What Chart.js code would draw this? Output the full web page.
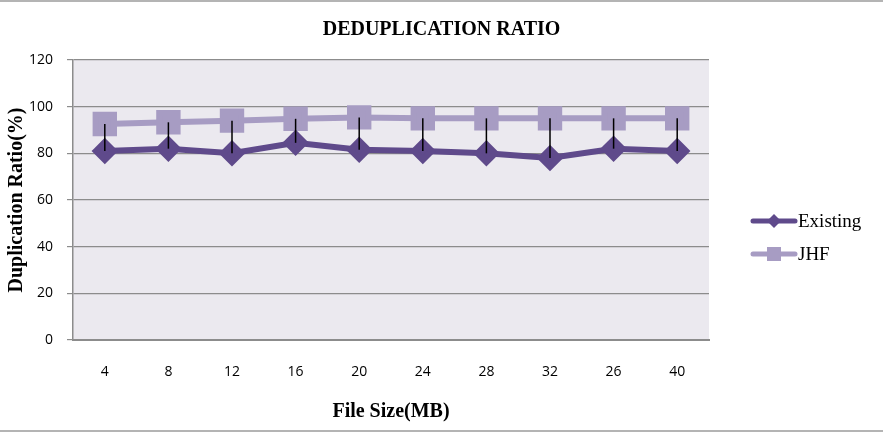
<!DOCTYPE html>
<html>
<head>
<meta charset="utf-8">
<script src="https://cdn.jsdelivr.net/npm/chart.js@4.4.0/dist/chart.umd.min.js"></script>
<style>
  html, body { margin: 0; padding: 0; background: #fff; }
  #wrap { width: 883px; height: 432px; position: relative; }
</style>
</head>
<body>
<div id="wrap"><canvas id="chart" width="883" height="432"></canvas></div>
<script>
// datos
const fileSizes = ['4', '8', '12', '16', '20', '24', '28', '32', '26', '40'];
const existing = [81, 82, 80, 84.5, 81.5, 81, 80, 78, 82, 81];
const jhf = [92.6, 93.3, 94, 94.8, 95.4, 95, 95, 95, 95, 95];
const yTicks = [0, 20, 40, 60, 80, 100, 120];
const chartTitle = 'DEDUPLICATION RATIO';

const colorExisting = '#5f4a8b';
const colorJHF = '#a79cc3';
const serif = '"Liberation Serif", "Times New Roman", serif';

// fondo del area de trazado + marco de la pagina + titulo centrado en todo el ancho
const backgroundPlugin = {
  id: 'plotBackground',
  beforeDraw(chart) {
    const { ctx, chartArea } = chart;
    ctx.save();
    ctx.fillStyle = '#fff';
    ctx.fillRect(0, 0, chart.width, chart.height);
    ctx.fillStyle = '#ebe9ef';
    ctx.fillRect(chartArea.left, chartArea.top, chartArea.right - chartArea.left, chartArea.bottom - chartArea.top);
    ctx.fillStyle = '#b4b4b4';
    ctx.fillRect(0, 0, chart.width, 2);
    ctx.fillRect(0, chart.height - 2, chart.width, 2);
    ctx.fillStyle = '#000';
    ctx.font = 'bold 20px ' + serif;
    ctx.textAlign = 'center';
    ctx.textBaseline = 'middle';
    ctx.fillText(chartTitle, chart.width / 2, 30);
    ctx.restore();
  }
};

// lineas max-min entre las dos series
const hiLowPlugin = {
  id: 'hiLowLines',
  afterDatasetsDraw(chart) {
    const { ctx } = chart;
    const metaA = chart.getDatasetMeta(0);
    const metaB = chart.getDatasetMeta(1);
    ctx.save();
    ctx.strokeStyle = '#000';
    ctx.lineWidth = 1.5;
    metaA.data.forEach((pt, i) => {
      const other = metaB.data[i];
      ctx.beginPath();
      ctx.moveTo(pt.x, pt.y);
      ctx.lineTo(other.x, other.y);
      ctx.stroke();
    });
    ctx.restore();
  }
};

// leyenda a la derecha, estilo linea con marcador
const legendPlugin = {
  id: 'sideLegend',
  afterDraw(chart) {
    const { ctx } = chart;
    const items = chart.data.datasets;
    const x0 = 753, x1 = 795;
    const ys = [221, 254];
    ctx.save();
    items.forEach((ds, i) => {
      const y = ys[i];
      ctx.strokeStyle = ds.borderColor;
      ctx.lineWidth = 5;
      ctx.lineCap = 'round';
      ctx.beginPath();
      ctx.moveTo(x0, y);
      ctx.lineTo(x1, y);
      ctx.stroke();
      ctx.fillStyle = ds.pointBackgroundColor;
      ctx.beginPath();
      if (ds.pointStyle === 'rectRot') {
        ctx.moveTo(774, y - 7);
        ctx.lineTo(781, y);
        ctx.lineTo(774, y + 7);
        ctx.lineTo(767, y);
        ctx.closePath();
      } else {
        ctx.rect(767, y - 7, 14, 14);
      }
      ctx.fill();
      ctx.fillStyle = '#000';
      ctx.font = '19px ' + serif;
      ctx.textBaseline = 'middle';
      ctx.fillText(ds.label, 798, y + 1);
    });
    ctx.restore();
  }
};

new Chart(document.getElementById('chart'), {
  type: 'line',
  data: {
    labels: fileSizes,
    datasets: [
      {
        label: 'Existing',
        data: existing,
        borderColor: colorExisting,
        backgroundColor: colorExisting,
        pointBackgroundColor: colorExisting,
        pointBorderColor: colorExisting,
        pointStyle: 'rectRot',
        pointRadius: 9,
        borderWidth: 6,
        tension: 0,
      },
      {
        label: 'JHF',
        data: jhf,
        borderColor: colorJHF,
        backgroundColor: colorJHF,
        pointBackgroundColor: colorJHF,
        pointBorderColor: colorJHF,
        pointStyle: 'rect',
        pointRadius: 13,
        borderWidth: 6,
        tension: 0,
      },
    ],
  },
  options: {
    responsive: false,
    animation: false,
    layout: { padding: { left: 0, right: 174, top: 60, bottom: 0 } },
    plugins: {
      legend: { display: false },
      tooltip: { enabled: false },
      title: { display: false },
    },
    scales: {
      x: {
        offset: true,
        grid: { display: false, drawTicks: false },
        border: { display: true, color: '#8c8c8c', width: 2 },
        ticks: {
          color: '#000',
          font: { family: '"Open Sans", sans-serif', size: 14 },
          padding: 24,
          maxRotation: 0,
        },
        title: {
          display: true,
          text: 'File Size(MB)',
          color: '#000',
          font: { family: serif, size: 20, weight: 'bold' },
          padding: { top: 0, bottom: 8 },
        },
        afterFit(scale) { scale.height = 92; },
      },
      y: {
        min: 0,
        max: 120,
        afterBuildTicks(scale) { scale.ticks = yTicks.map(v => ({ value: v })); },
        grid: { color: '#8c8c8c', lineWidth: 1.2, tickLength: 6, drawTicks: true },
        border: { display: true, color: '#8c8c8c', width: 1.5 },
        ticks: {
          color: '#000',
          font: { family: '"Open Sans", sans-serif', size: 14 },
          padding: 14,
        },
        title: {
          display: true,
          text: 'Duplication Ratio(%)',
          color: '#000',
          font: { family: serif, size: 20, weight: 'bold' },
          padding: { top: 5, bottom: 0 },
        },
        afterFit(scale) { scale.width = 73; },
      },
    },
  },
  plugins: [backgroundPlugin, hiLowPlugin, legendPlugin],
});
</script>
</body>
</html>
